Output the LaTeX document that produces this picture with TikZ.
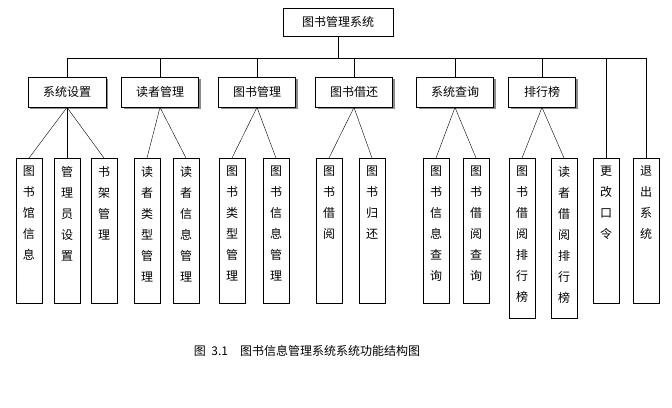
\documentclass[tikz,border=0pt]{standalone}
\usepackage{fontspec}
\newfontfamily\cjk{Noto Sans CJK SC}
\usetikzlibrary{shadows}
\tikzset{
  top/.style={draw,thick,fill=white,minimum width=110pt,minimum height=28pt,font=\cjk\fontsize{12}{14}\selectfont},
  group/.style={draw,thick,fill=white,minimum height=30pt,font=\cjk\fontsize{12}{14}\selectfont,
    drop shadow={shadow xshift=2pt,shadow yshift=-2pt,fill=black!45,opacity=1}},
  leaf/.style={draw,thick,anchor=north,minimum width=26pt},
  chars/.style={anchor=north,align=center,inner sep=0pt,font=\cjk\fontsize{12}{21}\selectfont}
}
\begin{document}
\begin{tikzpicture}[x=1pt,y=-1pt]
\useasboundingbox (0,0) rectangle (672,407);

\node[top] (root) at (338,22) {图书管理系统};

\node[group,minimum width=78pt] (g1) at (67,92) {系统设置};
\node[group,minimum width=77pt] (g2) at (160,92) {读者管理};
\node[group,minimum width=77pt] (g3) at (257,92) {图书管理};
\node[group,minimum width=77pt] (g4) at (354,92) {图书借还};
\node[group,minimum width=77pt] (g5) at (455,92) {系统查询};
\node[group,minimum width=67pt] (g6) at (542,92) {排行榜};

% leaves: name / x / height / text
\foreach \n/\x/\h/\t in {l1/29/145/图\\书\\馆\\信\\息, l2/67/145/管\\理\\员\\设\\置,
  l3/104/145/书\\架\\管\\理, l4/147/145/读\\者\\类\\型\\管\\理, l5/186/145/读\\者\\信\\息\\管\\理,
  l6/232/145/图\\书\\类\\型\\管\\理, l7/276/145/图\\书\\信\\息\\管\\理,
  l8/329/145/图\\书\\借\\阅, l9/372/145/图\\书\\归\\还,
  l10/436/145/图\\书\\信\\息\\查\\询, l11/476/145/图\\书\\借\\阅\\查\\询,
  l12/522/160/图\\书\\借\\阅\\排\\行\\榜, l13/564/160/读\\者\\借\\阅\\排\\行\\榜,
  l14/606/145/更\\改\\口\\令, l15/646/145/退\\出\\系\\统}
{
  \node[leaf,minimum height=\h pt] (\n) at (\x,158) {};
  \node[chars] (\n t) at ([yshift=-8pt]\n.north) {\t};
}

% bus
\coordinate (bus) at (338,58);
\draw[thick] (root.south) -- (bus);
\draw[thick] (g1.north |- bus) -- (l15.north |- bus);
\foreach \g in {g1,g2,g3,g4,g5,g6,l14,l15}
  \draw[thick] (\g.north |- bus) -- (\g.north);

% fans
\foreach \g/\l in {g1/l1,g1/l2,g1/l3,g2/l4,g2/l5,g3/l6,g3/l7,g4/l8,g4/l9,g5/l10,g5/l11,g6/l12,g6/l13}
  \draw (\g.south) -- (\l.north);

\node[font=\cjk\fontsize{12}{14}\selectfont] (cap) at (307,351) {图\ \ 3.1\quad 图书信息管理系统系统功能结构图};
\end{tikzpicture}
\end{document}
